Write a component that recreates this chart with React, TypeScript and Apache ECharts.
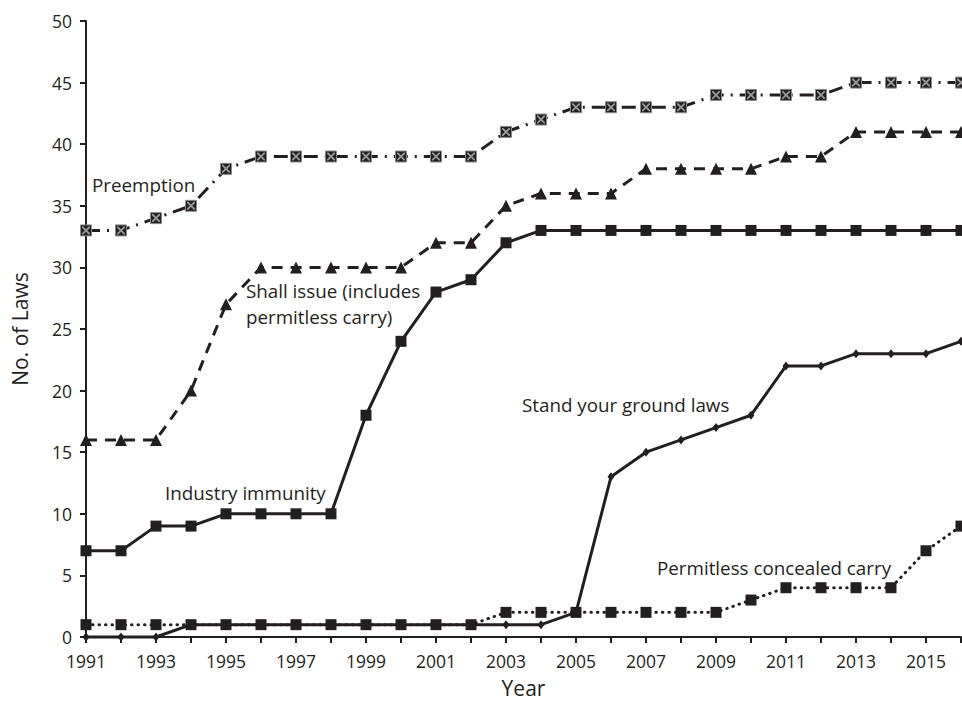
import React, { useEffect, useRef } from "react";
import * as echarts from "echarts";

const years = [
  "1991", "1992", "1993", "1994", "1995", "1996", "1997", "1998", "1999", "2000",
  "2001", "2002", "2003", "2004", "2005", "2006", "2007", "2008", "2009", "2010",
  "2011", "2012", "2013", "2014", "2015", "2016",
];
const preemption = [33, 33, 34, 35, 38, 39, 39, 39, 39, 39, 39, 39, 41, 42, 43, 43, 43, 43, 44, 44, 44, 44, 45, 45, 45, 45];
const shallIssue = [16, 16, 16, 20, 27, 30, 30, 30, 30, 30, 32, 32, 35, 36, 36, 36, 38, 38, 38, 38, 39, 39, 41, 41, 41, 41];
const industryImmunity = [7, 7, 9, 9, 10, 10, 10, 10, 18, 24, 28, 29, 32, 33, 33, 33, 33, 33, 33, 33, 33, 33, 33, 33, 33, 33];
const standYourGround = [0, 0, 0, 1, 1, 1, 1, 1, 1, 1, 1, 1, 1, 1, 2, 13, 15, 16, 17, 18, 22, 22, 23, 23, 23, 24];
const permitlessCarry = [1, 1, 1, 1, 1, 1, 1, 1, 1, 1, 1, 1, 2, 2, 2, 2, 2, 2, 2, 3, 4, 4, 4, 4, 7, 9];

const INK = "#231f20";
const FONT = "'Open Sans', 'Noto Sans', sans-serif";

const X_PATH =
  "path://M0,0 L1.6,0 L5,3.4 L8.4,0 L10,0 L10,1.6 L6.6,5 L10,8.4 L10,10 L8.4,10 L5,6.6 L1.6,10 L0,10 L0,8.4 L3.4,5 L0,1.6 Z";

export default function App() {
  const ref = useRef<HTMLDivElement>(null);
  useEffect(() => {
    if (!ref.current) return;
    const chart = echarts.init(ref.current, null, { renderer: "svg" });
    const textStyle = (t: string, x: number, y: number) => ({
      type: "text",
      left: x,
      top: y,
      style: { text: t, fill: INK, font: `18.8px ${FONT}`, lineHeight: 26 },
    });
    chart.setOption({
      animation: false,
      backgroundColor: "#ffffff",
      grid: { left: 86, right: 1, top: 21, bottom: 67, containLabel: false },
      xAxis: {
        type: "category",
        data: years,
        boundaryGap: false,
        name: "Year",
        nameLocation: "middle",
        nameGap: 40,
        nameTextStyle: { color: INK, fontSize: 21, fontFamily: FONT },
        axisLine: { lineStyle: { color: INK, width: 2 } },
        axisTick: { show: true, interval: 0, length: 6, lineStyle: { color: INK, width: 2 } },
        axisLabel: { interval: 1, color: INK, fontSize: 17.5, fontFamily: FONT, margin: 15 },
        splitLine: { show: false },
      },
      yAxis: {
        type: "value",
        min: 0,
        max: 50,
        interval: 5,
        name: "No. of Laws",
        nameLocation: "middle",
        nameGap: 56,
        nameTextStyle: { color: INK, fontSize: 21, fontFamily: FONT },
        axisLine: { show: true, lineStyle: { color: INK, width: 2 } },
        axisTick: { show: true, length: 6, lineStyle: { color: INK, width: 2 } },
        axisLabel: { color: INK, fontSize: 17.5, fontFamily: FONT, margin: 14 },
        splitLine: { show: false },
      },
      series: [
        {
          name: "Preemption",
          type: "line",
          data: preemption,
          symbol: "rect",
          symbolSize: 11,
          clip: false,
          itemStyle: { color: INK, borderColor: "#8a8a8a", borderWidth: 1 },
          lineStyle: { color: INK, width: 3, type: [14, 7, 2, 7] },
        },
        {
          name: "PreemptionX",
          type: "line",
          data: preemption,
          symbol: X_PATH,
          symbolSize: 8,
          clip: false,
          itemStyle: { color: "#9a9a9a" },
          lineStyle: { opacity: 0, width: 0 },
          silent: true,
        },
        {
          name: "Shall issue",
          type: "line",
          data: shallIssue,
          symbol: "triangle",
          symbolSize: 12,
          clip: false,
          itemStyle: { color: INK },
          lineStyle: { color: INK, width: 3, type: [11, 8] },
        },
        {
          name: "Industry immunity",
          type: "line",
          data: industryImmunity,
          symbol: "rect",
          symbolSize: 11,
          clip: false,
          itemStyle: { color: INK },
          lineStyle: { color: INK, width: 3 },
        },
        {
          name: "Stand your ground laws",
          type: "line",
          data: standYourGround,
          symbol: "diamond",
          symbolSize: [7, 9],
          clip: false,
          itemStyle: { color: INK },
          lineStyle: { color: INK, width: 3 },
        },
        {
          name: "Permitless concealed carry",
          type: "line",
          data: permitlessCarry,
          symbol: "rect",
          symbolSize: 11,
          clip: false,
          itemStyle: { color: INK },
          lineStyle: { color: INK, width: 3, type: [0.5, 6], cap: "round" },
        },
      ],
      graphic: [
        textStyle("Preemption", 92, 172),
        textStyle("Shall issue (includes\npermitless carry)", 246, 278),
        textStyle("Industry immunity", 165, 480),
        textStyle("Stand your ground laws", 522, 392),
        textStyle("Permitless concealed carry", 657, 555),
      ],
    });
    return () => chart.dispose();
  }, []);
  return (
    <div
      ref={ref}
      style={{ position: "absolute", left: 0, top: 0, width: 962, height: 704 }}
    />
  );
}
